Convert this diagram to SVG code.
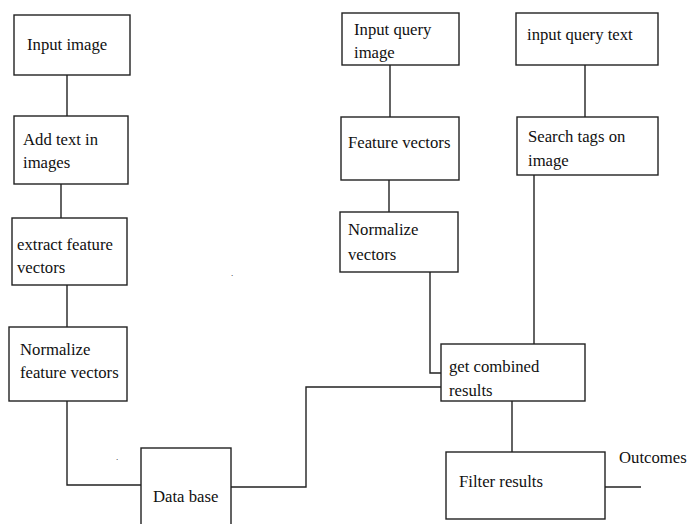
<svg xmlns="http://www.w3.org/2000/svg" width="689" height="524" viewBox="0 0 689 524">
<style>
.box{fill:#fff;stroke:#222;stroke-width:1.4}
.ln{fill:none;stroke:#222;stroke-width:1.4}
.t{font-family:'Liberation Serif','Times New Roman',serif;font-size:16.7px;fill:#111}
.dot{font-family:'Liberation Serif',serif;font-size:9px;fill:#111}
</style>
<rect width="689" height="524" fill="#fff"/>
<g id="connectors">
<path class="ln" d="M67 75V116"/>
<path class="ln" d="M61 184V218"/>
<path class="ln" d="M67 285V327"/>
<path class="ln" d="M67 401V485H141"/>
<path class="ln" d="M231 487H306V387H441"/>
<path class="ln" d="M390 65V117"/>
<path class="ln" d="M389 180V212"/>
<path class="ln" d="M430 272V373H441"/>
<path class="ln" d="M585 65V117"/>
<path class="ln" d="M534 171V344"/>
<path class="ln" d="M512 401V452"/>
<path class="ln" d="M605 487H641"/>
</g>
<g class="t" font-family="Liberation Serif, serif">
<g id="n1"><rect class="box" x="14" y="15" width="116" height="60"/><text x="27" y="50">Input image</text></g>
<g id="n2"><rect class="box" x="14" y="116" width="114" height="68"/><text x="23" y="145">Add text in</text><text x="23" y="168">images</text></g>
<g id="n3"><rect class="box" x="12" y="218" width="115" height="67"/><text x="17" y="250">extract feature</text><text x="17" y="273">vectors</text></g>
<g id="n4"><rect class="box" x="9" y="327" width="118" height="74"/><text x="20" y="355">Normalize</text><text x="20" y="378">feature vectors</text></g>
<g id="n5"><rect class="box" x="141" y="448" width="90" height="80"/><text x="153" y="502">Data base</text></g>
<g id="n6"><rect class="box" x="342" y="13" width="117" height="52"/><text x="354" y="35">Input query</text><text x="354" y="58">image</text></g>
<g id="n7"><rect class="box" x="341" y="117" width="118" height="63"/><text x="348" y="148">Feature vectors</text></g>
<g id="n8"><rect class="box" x="340" y="212" width="118" height="60"/><text x="348" y="235">Normalize</text><text x="348" y="260">vectors</text></g>
<g id="n9"><rect class="box" x="516" y="13" width="142" height="52"/><text x="527" y="40">input query text</text></g>
<g id="n10"><rect class="box" x="517" y="117" width="141" height="58"/><text x="528" y="142">Search tags on</text><text x="528" y="166">image</text></g>
<g id="n11"><rect class="box" x="441" y="344" width="144" height="57"/><text x="449" y="372">get combined</text><text x="449" y="396">results</text></g>
<g id="n12"><rect class="box" x="446" y="452" width="159" height="67"/><text x="459" y="487">Filter results</text></g>
<text x="619" y="463">Outcomes</text>
</g>
<text class="dot" x="231" y="276">.</text>
<text class="dot" x="116" y="460">.</text>
</svg>
